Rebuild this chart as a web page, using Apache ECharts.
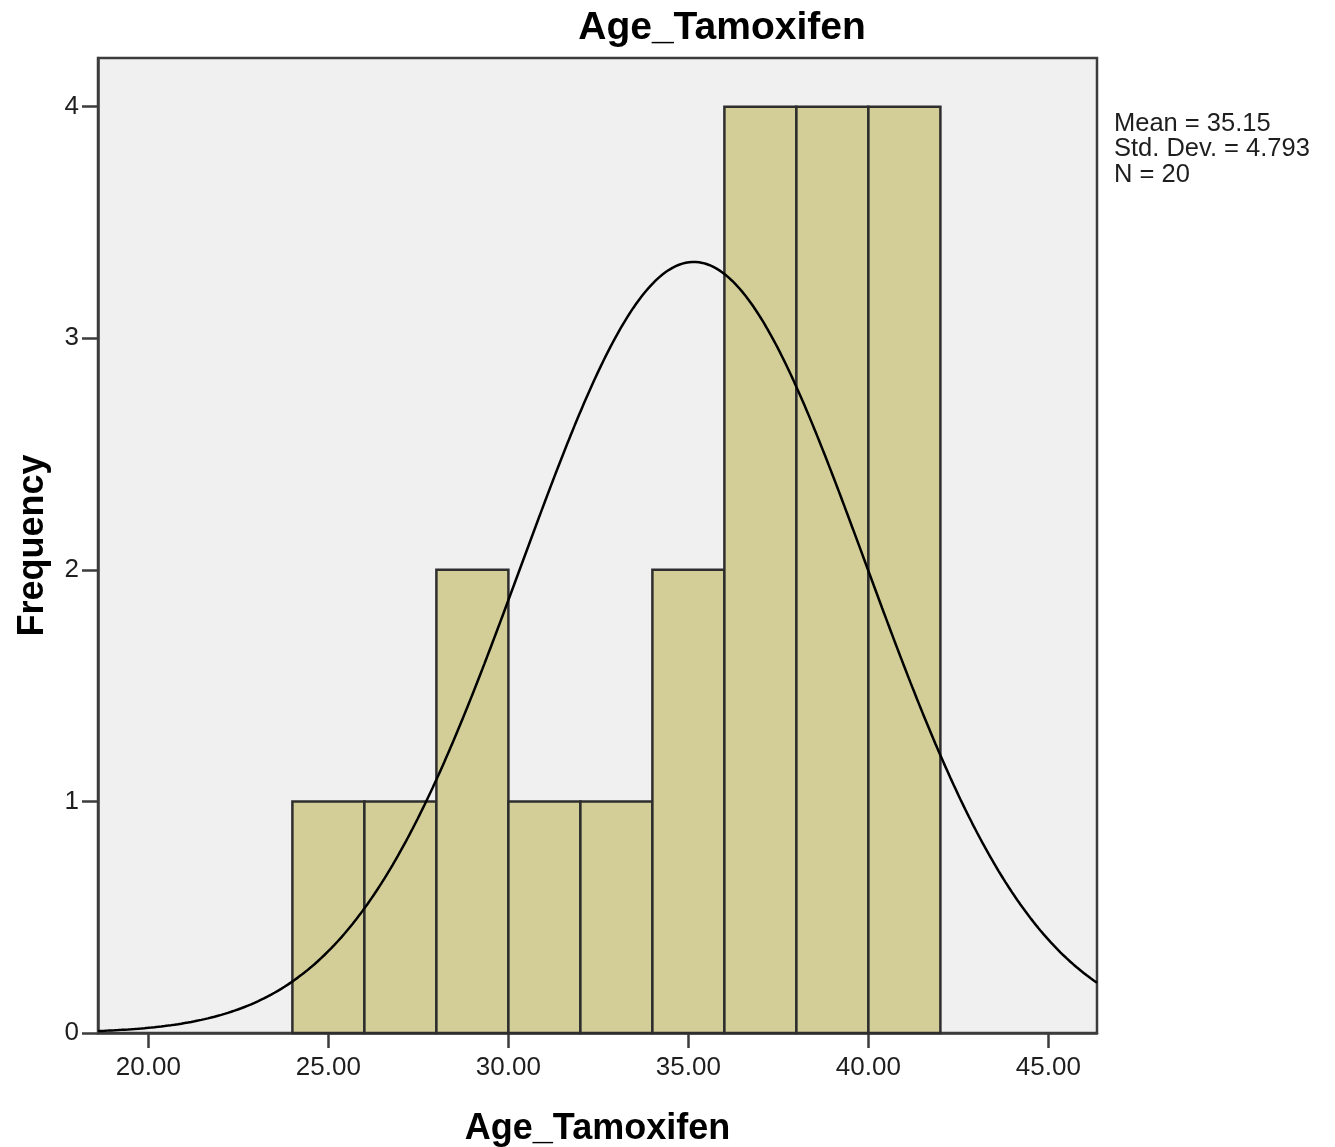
<!DOCTYPE html>
<html>
<head>
<meta charset="utf-8">
<title>Age_Tamoxifen</title>
<script src="https://cdn.jsdelivr.net/npm/echarts@6/dist/echarts.min.js"></script>
<style>
  html, body { margin: 0; padding: 0; background: #ffffff; }
  #chart { width: 1335px; height: 1147px; }
</style>
</head>
<body>
<div id="chart"></div>
<script>
// Histogram bins (lower edge of each 2-year bin) and their frequencies
const binStarts = [24, 26, 28, 30, 32, 34, 36, 38, 40];
const binWidth = 2;
const counts = [1, 1, 2, 1, 1, 2, 4, 4, 4];

// Summary statistics printed beside the plot
const mean = 35.15;
const stdDev = 4.793;
const n = 20;

// Axis tick labels
const xTicks = [20, 25, 30, 35, 40, 45];
const yTicks = [0, 1, 2, 3, 4];

const xMin = 18.6, xMax = 46.35, yMax = 4.21;
const FONT = '"Liberation Sans", Arial, Helvetica, sans-serif';

// Normal curve scaled to frequency: n * binWidth * pdf(x)
const curve = [];
for (let i = 0; i <= 600; i++) {
  const x = xMin + (xMax - xMin) * i / 600;
  const z = (x - mean) / stdDev;
  const y = n * binWidth * Math.exp(-0.5 * z * z) / (stdDev * Math.sqrt(2 * Math.PI));
  curve.push([x, y]);
}

const bars = binStarts.map((s, i) => [s, s + binWidth, counts[i]]);

const chart = echarts.init(document.getElementById('chart'), null, { renderer: 'canvas' });

chart.setOption({
  animation: false,
  backgroundColor: '#ffffff',
  grid: {
    left: 98, top: 58, width: 999, height: 975,
    show: true, backgroundColor: '#f0f0f0',
    borderColor: '#3c3c3c', borderWidth: 2.5,
    containLabel: false,
    outerBoundsMode: 'none'
  },
  xAxis: {
    type: 'value', min: xMin, max: xMax,
    name: 'Age_Tamoxifen', nameLocation: 'middle', nameGap: 78,
    nameTextStyle: { fontFamily: FONT, fontWeight: 'bold', fontSize: 36, color: '#000' },
    axisLine: { show: true, lineStyle: { color: '#3c3c3c', width: 2.5 } },
    axisTick: { show: true, customValues: xTicks, length: 15, inside: false, lineStyle: { color: '#3c3c3c', width: 2.5 } },
    axisLabel: {
      customValues: xTicks, margin: 22,
      fontFamily: FONT, fontSize: 26, color: '#1e1e1e',
      formatter: v => Number(v).toFixed(2)
    },
    splitLine: { show: false }
  },
  yAxis: {
    type: 'value', min: 0, max: yMax,
    name: 'Frequency', nameLocation: 'middle', nameGap: 47, nameRotate: 90,
    nameTextStyle: { fontFamily: FONT, fontWeight: 'bold', fontSize: 36, color: '#000' },
    axisLine: { show: true, lineStyle: { color: '#3c3c3c', width: 2.5 } },
    axisTick: { show: true, customValues: yTicks, length: 16, inside: false, lineStyle: { color: '#3c3c3c', width: 2.5 } },
    axisLabel: {
      customValues: yTicks, margin: 19,
      fontFamily: FONT, fontSize: 26, color: '#1e1e1e',
      formatter: v => String(Math.round(v))
    },
    splitLine: { show: false }
  },
  series: [
    {
      type: 'custom',
      data: bars,
      encode: { x: [0, 1], y: 2 },
      renderItem: function (params, api) {
        const p0 = api.coord([api.value(0), api.value(2)]);
        const p1 = api.coord([api.value(1), 0]);
        return {
          type: 'rect',
          shape: { x: p0[0], y: p0[1], width: p1[0] - p0[0], height: p1[1] - p0[1] },
          style: { fill: '#d3ce98', stroke: '#2e2e2e', lineWidth: 2.5 }
        };
      },
      z: 2
    },
    {
      type: 'line',
      data: curve,
      showSymbol: false,
      smooth: false,
      clip: true,
      lineStyle: { color: '#000', width: 2.5 },
      z: 3
    }
  ],
  graphic: [
    {
      type: 'text', x: 722, y: 28,
      style: {
        text: 'Age_Tamoxifen',
        font: 'bold 39px ' + FONT, fill: '#000',
        textAlign: 'center', textVerticalAlign: 'middle'
      }
    },
    {
      type: 'text', x: 1114, y: 111,
      style: {
        text: 'Mean = ' + mean.toFixed(2) + '\nStd. Dev. = ' + stdDev.toFixed(3) + '\nN = ' + n,
        font: '25.5px ' + FONT, fill: '#1e1e1e', lineHeight: 25.5
      }
    }
  ]
});
</script>
</body>
</html>
